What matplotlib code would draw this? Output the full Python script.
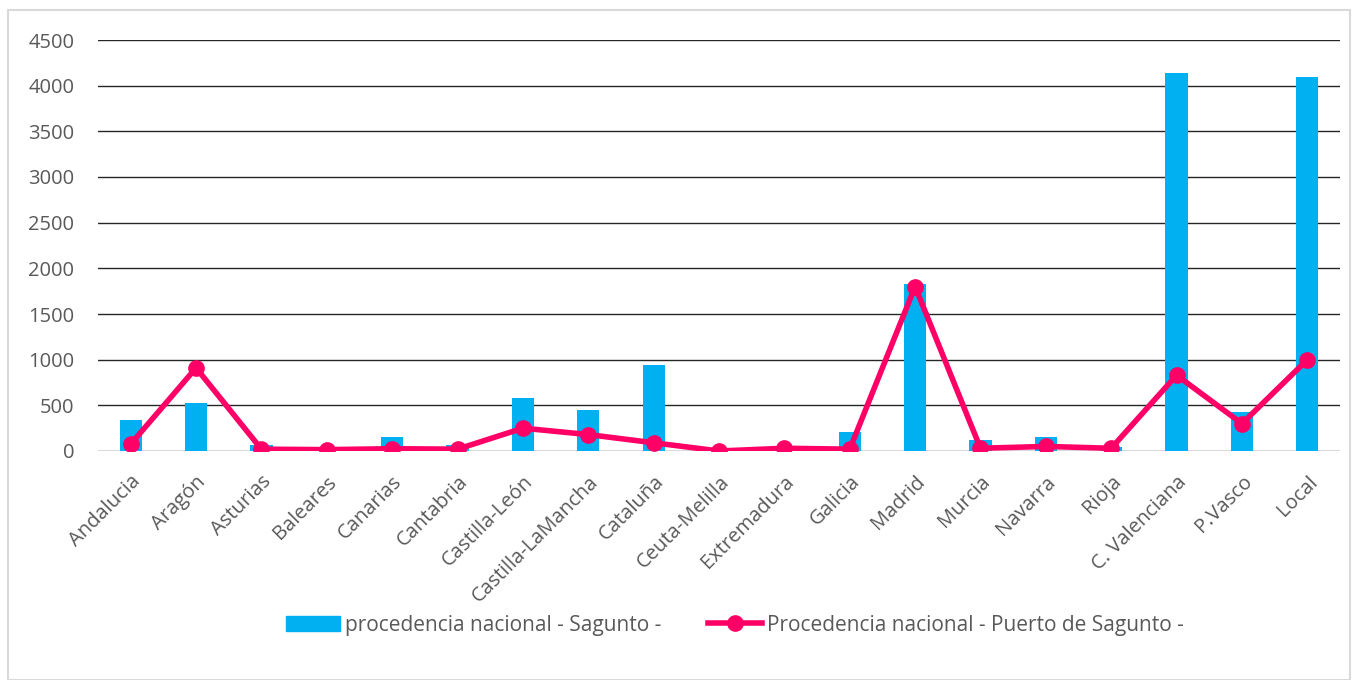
import matplotlib
matplotlib.use("Agg")
import matplotlib.pyplot as plt
from matplotlib.patches import Rectangle
from matplotlib.lines import Line2D
import numpy as np

plt.rcParams['font.family'] = ['Open Sans', 'DejaVu Sans']

categories = ["Andalucia", "Aragón", "Asturias", "Baleares", "Canarias", "Cantabria",
              "Castilla-León", "Castilla-LaMancha", "Cataluña", "Ceuta-Melilla",
              "Extremadura", "Galicia", "Madrid", "Murcia", "Navarra", "Rioja",
              "C. Valenciana", "P.Vasco", "Local"]
sagunto = [340, 530, 65, 30, 150, 70, 580, 450, 940, 5, 10, 210, 1830, 120, 150, 45,
           4140, 430, 4100]
puerto = [75, 910, 20, 15, 25, 20, 250, 180, 90, 0, 30, 20, 1800, 30, 50, 30,
          830, 300, 1000]
yticks = [0, 500, 1000, 1500, 2000, 2500, 3000, 3500, 4000, 4500]

bar_color = "#00B0F0"
line_color = "#FF0066"
text_color = "#595959"
fs = 14.5

fig = plt.figure(figsize=(13.59, 6.8), dpi=100)
fig.patches.append(Rectangle((8 / 1359, 0.0), 1342 / 1359, 670 / 680,
                             transform=fig.transFigure, fill=False,
                             edgecolor="#D9D9D9", linewidth=1.5))

ax = fig.add_axes([98 / 1359, (680 - 451) / 680, (1340 - 98) / 1359, 411 / 680])
x = np.arange(len(categories))
ax.bar(x, sagunto, width=0.34, color=bar_color, zorder=2,
       label="procedencia nacional - Sagunto -")
ax.plot(x, puerto, color=line_color, linewidth=4, marker="o", markersize=11,
        zorder=3, label="Procedencia nacional - Puerto de Sagunto -")

ax.set_xlim(-0.5, len(categories) - 0.5)
ax.set_ylim(0, 4500)
ax.set_yticks(yticks)
ax.set_yticklabels([str(v) for v in yticks], fontsize=fs, color=text_color)
for v in yticks[1:]:
    ax.axhline(v, color="#262626", linewidth=1.0, zorder=1)
ax.axhline(0, color="#D9D9D9", linewidth=1.5, zorder=1)

ax.set_xticks(x)
ax.set_xticklabels(categories, rotation=45, ha="right", rotation_mode="anchor",
                   fontsize=fs, color=text_color)
ax.tick_params(axis="x", length=0, pad=15)
ax.tick_params(axis="y", length=0, pad=17)
for s in ax.spines.values():
    s.set_visible(False)

handles = [Rectangle((0, 0), 1, 1, color=bar_color),
           Line2D([0], [0], color=line_color, linewidth=4, marker="o", markersize=11)]
fig.legend(handles, ["procedencia nacional - Sagunto -",
                     "Procedencia nacional - Puerto de Sagunto -"],
           loc="center", bbox_to_anchor=(735 / 1359, 1 - 625 / 680), ncol=2,
           frameon=False, fontsize=15, labelcolor=text_color,
           handlelength=2.6, handletextpad=0.25, columnspacing=2.2)

fig.savefig("out.png", dpi=100)
